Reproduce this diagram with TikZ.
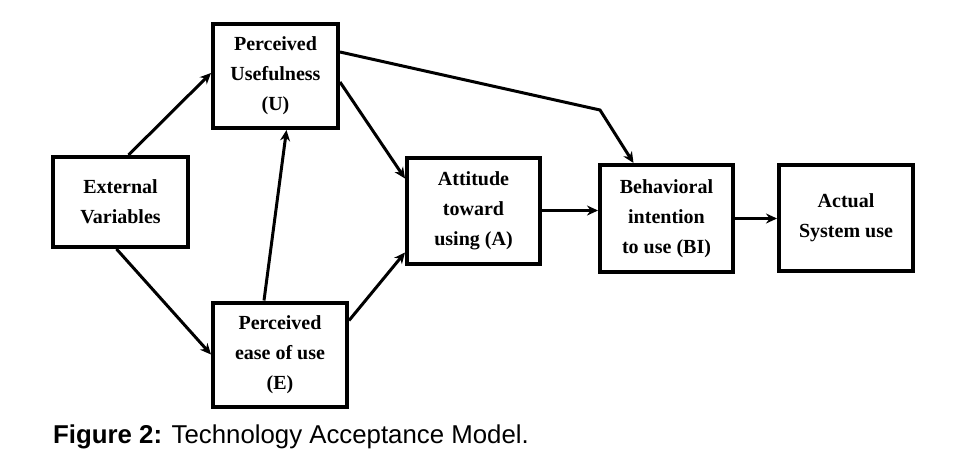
\documentclass[tikz,border=0pt]{standalone}
\usepackage{fontspec}
\newfontfamily\boxfont{Liberation Serif}
\newfontfamily\capfont{Liberation Sans}
\usetikzlibrary{arrows.meta}

\begin{document}
\begin{tikzpicture}[x=1pt, y=-1pt, >={Stealth[length=11pt, width=10pt]},
  blk/.style={draw, line width=4pt, align=center, inner sep=0pt,
    font=\boxfont\bfseries\fontsize{20}{30}\selectfont},
  arr/.style={->, line width=3pt}]
\useasboundingbox (0,0) rectangle (976,469);
% boxes
\node[blk, minimum width=135pt, minimum height=90pt] (ext) at (120.5,202) {External\\Variables};
\node[blk, minimum width=125pt, minimum height=104pt] (pu) at (275.5,76) {Perceived\\Usefulness\\(U)};
\node[blk, minimum width=134pt, minimum height=104pt] (pe) at (280,354.5) {Perceived\\ease of use\\(E)};
\node[blk, minimum width=133pt, minimum height=106pt] (att) at (473.5,210.5) {Attitude\\toward\\using (A)};
\node[blk, minimum width=133pt, minimum height=107pt] (bi) at (666.5,218.5) {Behavioral\\intention\\to use (BI)};
\node[blk, minimum width=134pt, minimum height=106pt] (use) at (846,218) {Actual\\System use};
\coordinate (bend) at (600,110);
% links
\draw[arr] ([xshift=8pt]ext.north) -- ([yshift=3pt]pu.west);
\draw[arr] ([xshift=-4pt]ext.south) -- (pe.west);
\draw[arr] ([xshift=-16pt]pe.north) -- ([xshift=11pt]pu.south);
\draw[arr] ([yshift=-6pt]pu.east) -- ([yshift=-23pt]att.north west);
\draw[arr] ([yshift=-20pt]pe.north east) -- ([yshift=13pt]att.south west);
\draw[arr] ([yshift=24pt]pu.east) -- (bend) -- ([xshift=-33pt]bi.north);
\draw[arr] (att.east) -- (bi.west |- att.east);
\draw[arr] (bi.east) -- (use.west |- bi.east);
% caption
\node[anchor=west, inner sep=0pt, font=\capfont\fontsize{25.8}{30}\selectfont] (cap) at (53,437)
  {\textbf{Figure 2:} Technology Acceptance Model.};
\end{tikzpicture}
\end{document}
